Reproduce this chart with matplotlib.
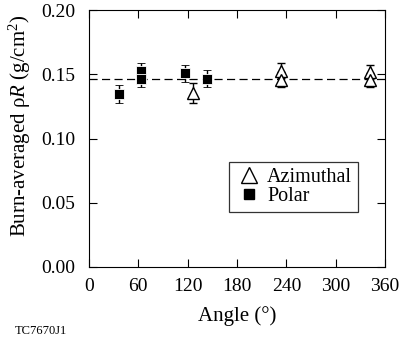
import matplotlib.pyplot as plt
from matplotlib.lines import Line2D

plt.rcParams['font.family'] = ['Liberation Serif', 'DejaVu Serif']
plt.rcParams['mathtext.fontset'] = 'custom'
plt.rcParams['mathtext.rm'] = 'Liberation Serif'
plt.rcParams['mathtext.it'] = 'Liberation Serif:italic'

# data
polar_angle = [37, 63, 63, 117, 143]
polar_rho = [0.1346, 0.1528, 0.1465, 0.1507, 0.1466]
polar_err = [0.0068, 0.0058, 0.0068, 0.0067, 0.0068]

azim_angle = [126, 234, 234, 342, 342]
azim_rho = [0.1357, 0.1528, 0.1458, 0.1515, 0.1452]
azim_err = [0.0077, 0.0057, 0.0058, 0.0055, 0.0055]

mean_rho = 0.146

fig = plt.figure(figsize=(4.01, 3.43), dpi=100)
ax = fig.add_axes([0.222, 0.2216, 0.738, 0.7492])

ax.axhline(mean_rho, color="black", linestyle=(0, (6.5, 3.5)), linewidth=0.9, zorder=1)

ax.errorbar(azim_angle, azim_rho, yerr=azim_err, fmt="^", color="black",
            markerfacecolor="white", markeredgecolor="black", markersize=9,
            markeredgewidth=1.0, capsize=3, elinewidth=1.0, zorder=3)
ax.errorbar(polar_angle, polar_rho, yerr=polar_err, fmt="s", color="black",
            markerfacecolor="black", markeredgecolor="white", markersize=7.5,
            markeredgewidth=0.6, capsize=3, elinewidth=1.0, zorder=4)

ax.set_xlim(0, 360)
ax.set_ylim(0, 0.20)
ax.set_xticks([0, 60, 120, 180, 240, 300, 360])
ax.set_yticks([0.00, 0.05, 0.10, 0.15, 0.20])
ax.set_yticklabels(["0.00", "0.05", "0.10", "0.15", "0.20"])
ax.tick_params(direction="in", top=True, right=True, length=6, labelsize=14, width=0.8, pad=8)
ax.tick_params(axis="y", pad=10)
ax.set_xlabel("Angle (°)", fontsize=15, labelpad=8)
ax.set_ylabel(r"Burn-averaged ρ$\it{R}$ (g/cm$^2$)", fontsize=15)
ax.yaxis.set_label_coords(-0.19, 0.55)

handles = [
    Line2D([], [], linestyle="none", marker="^", markersize=11,
           markerfacecolor="white", markeredgecolor="black", markeredgewidth=1.0),
    Line2D([], [], linestyle="none", marker="s", markersize=7.5,
           markerfacecolor="black", markeredgecolor="black"),
]
leg = ax.legend(handles, ["Azimuthal", "Polar"], loc="lower right",
                bbox_to_anchor=(0.909, 0.214), fontsize=14.5,
                frameon=True, fancybox=False, handletextpad=0.2,
                borderpad=0.3, handlelength=1.4, labelspacing=0.0,
                borderaxespad=0)
leg.get_frame().set_edgecolor("black")
leg.get_frame().set_linewidth(0.9)

fig.text(0.037, 0.025, "TC7670J1", fontsize=9)

fig.savefig("out.png", dpi=100)
